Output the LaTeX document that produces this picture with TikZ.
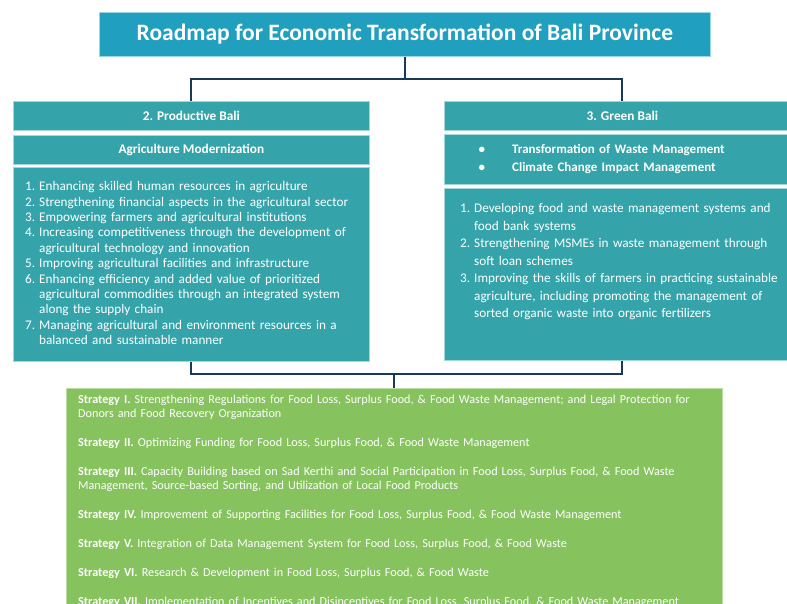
\documentclass[tikz,border=0pt]{standalone}
\usepackage{fontspec}
\setmainfont{Carlito}
\usepackage{enumitem}
\usetikzlibrary{positioning}

\definecolor{titleblue}{RGB}{33,159,190}
\definecolor{baliteal}{RGB}{53,164,170}
\definecolor{baligreen}{RGB}{134,194,94}
\definecolor{linknavy}{RGB}{24,58,88}

\tikzset{
  panel/.style={fill=baliteal, draw=baliteal!45!white, line width=0.8pt, anchor=north west, inner sep=0pt},
  panelhead/.style={panel, text=white, font=\bfseries\fontsize{13.3}{15}\selectfont},
  paneltext/.style={anchor=north west, inner sep=0pt, text=white, align=left},
  link/.style={draw=linknavy, line width=2pt},
}

\begin{document}
\begin{tikzpicture}[x=1pt, y=-1pt]
    \useasboundingbox (0,0) rectangle (787,603);

    % title
    \node (title) [fill=titleblue, draw=titleblue!45!white, line width=0.8pt, anchor=north west, inner sep=0pt,
      minimum width=611pt, minimum height=44pt, text=white, font=\bfseries\fontsize{23.5}{25}\selectfont]
      at (99,12) {Roadmap for Economic Transformation of Bali Province};

    % left column
    \node (prod) [panelhead, minimum width=356pt, minimum height=29pt] at (13,101) {2. Productive Bali};
    \node (agri) [panelhead, minimum width=356pt, minimum height=29pt] at (13,135) {Agriculture Modernization};
    \node (prodlist) [panel, minimum width=356pt, minimum height=194pt] at (13,167) {};
    \node (prodtext) [paneltext, text width=338pt, font=\fontsize{13.2}{15.4}\selectfont] at (22,175) {%
      \begin{enumerate}[leftmargin=17pt, labelsep=4pt, itemsep=0pt, topsep=0pt, parsep=0pt, partopsep=0pt]
        \item Enhancing skilled human resources in agriculture
        \item Strengthening financial aspects in the agricultural sector
        \item Empowering farmers and agricultural institutions
        \item Increasing competitiveness through the development of agricultural technology and innovation
        \item Improving agricultural facilities and infrastructure
        \item Enhancing efficiency and added value of prioritized agricultural commodities through an integrated system along the supply chain
        \item Managing agricultural and environment resources in a balanced and sustainable manner
      \end{enumerate}};

    % right column
    \node (green) [panelhead, minimum width=356pt, minimum height=29pt] at (444,101) {3. Green Bali};
    \node (waste) [panel, minimum width=356pt, minimum height=50pt] at (444,134) {};
    \node (wastetext) [paneltext, text width=300pt, font=\bfseries\fontsize{13}{18}\selectfont] at (477,135) {%
      \begin{itemize}[leftmargin=35pt, labelsep=27pt, itemsep=0pt, topsep=0pt, parsep=0pt, partopsep=0pt, label={\textbullet}]
        \item Transformation of Waste Management
        \item Climate Change Impact Management
      \end{itemize}};
    \node (greenlist) [panel, minimum width=356pt, minimum height=172pt] at (444,188) {};
    \node (greentext) [paneltext, text width=330pt, font=\fontsize{13.2}{17.5}\selectfont] at (455,195) {%
      \begin{enumerate}[leftmargin=19pt, labelsep=4pt, itemsep=0pt, topsep=0pt, parsep=0pt, partopsep=0pt]
        \item Developing food and waste management systems and food bank systems
        \item Strengthening MSMEs in waste management through soft loan schemes
        \item Improving the skills of farmers in practicing sustainable agriculture, including promoting the management of sorted organic waste into organic fertilizers
      \end{enumerate}};

    % strategies
    \node (strat) [fill=baligreen, draw=baligreen!55!white, line width=0.8pt, anchor=north west, inner sep=0pt,
      minimum width=656pt, minimum height=240pt] at (66,388) {};
    \node (strattext) [paneltext, text width=625pt, font=\fontsize{12.2}{14}\selectfont] at (78,395) {%
      \setlength{\parskip}{15pt}%
      \textbf{Strategy I.} Strengthening Regulations for Food Loss, Surplus Food, \& Food Waste Management; and Legal Protection for Donors and Food Recovery Organization\par
      \textbf{Strategy II.} Optimizing Funding for Food Loss, Surplus Food, \& Food Waste Management\par
      \textbf{Strategy III.} Capacity Building based on Sad Kerthi and Social Participation in Food Loss, Surplus Food, \& Food Waste Management, Source-based Sorting, and Utilization of Local Food Products\par
      \textbf{Strategy IV.} Improvement of Supporting Facilities for Food Loss, Surplus Food, \& Food Waste Management\par
      \textbf{Strategy V.} Integration of Data Management System for Food Loss, Surplus Food, \& Food Waste\par
      \textbf{Strategy VI.} Research \& Development in Food Loss, Surplus Food, \& Food Waste\par
      \textbf{Strategy VII.} Implementation of Incentives and Disincentives for Food Loss, Surplus Food, \& Food Waste Management};

    % connectors
    \coordinate (fork) at ([yshift=-22pt]title.south);
    \coordinate (join) at ([yshift=14pt]strat.north);
    \draw [link] (title.south) -- (fork) -| (prod.north);
    \draw [link] (fork) -| (green.north);
    \draw [link] (prodlist.south) |- (join) -| (greenlist.south);
    \draw [link] (join) -- (strat.north);
\end{tikzpicture}
\end{document}
